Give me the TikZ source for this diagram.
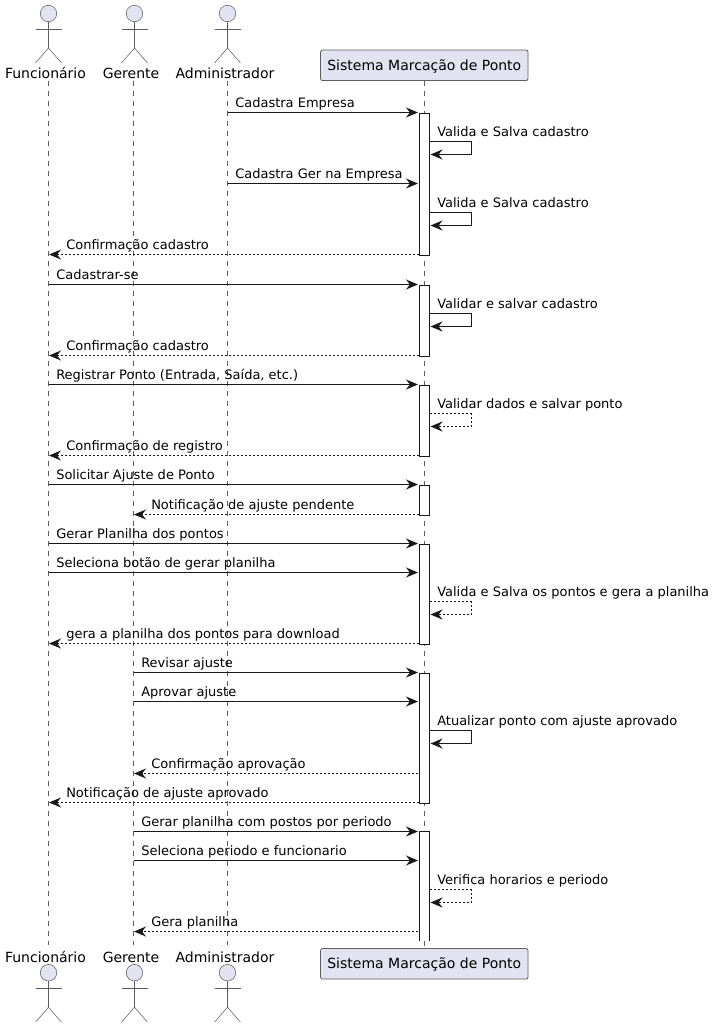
\documentclass[tikz,border=0pt]{standalone}
\usepackage{fontspec}
\setmainfont{DejaVu Sans}
\usetikzlibrary{arrows.meta}
\definecolor{pfill}{HTML}{E2E2F0}
\definecolor{pline}{HTML}{181818}
\tikzset{
  px/.style={x=0.75pt,y=-0.75pt},
  life/.style={draw=pline!70,line width=0.4pt,dash pattern=on 3.75pt off 3.75pt},
  act/.style={draw=pline!70,line width=0.4pt},
  head/.style={circle,draw=pline!70,fill=pfill,line width=0.4pt,minimum size=12.4pt,inner sep=0pt},
  actlabel/.style={font=\fontsize{10.5pt}{12pt}\selectfont,inner sep=0pt,anchor=base,text=black},
  pbox/.style={draw=pline!70,fill=pfill,rounded corners=1.5pt,line width=0.6pt,minimum width=155.6pt,minimum height=22.9pt,inner sep=0pt,text=black},
  pboxtext/.style={font=\fontsize{10.5pt}{12pt}\selectfont,inner sep=0pt,anchor=base,text=black},
  acti/.style={draw=pline,fill=white,line width=0.75pt,minimum width=7.5pt,inner sep=0pt,anchor=north},
  sync/.style={draw=pline,line width=0.75pt,-{Stealth[length=9pt,width=7.5pt,inset=3pt]}},
  ret/.style={sync,dash pattern=on 1.5pt off 1.5pt},
  lbl/.style={font=\fontsize{9.75pt}{11.5pt}\selectfont,inner sep=0pt,anchor=base west,text=black}
}
% name, x, y-centre of head
\newcommand{\actorfig}[3]{%
  \node[head] (#1h) at (#2,#3) {};
  \coordinate (#1w) at (#2,#3+34.5);
  \coordinate (#1al) at (#2-13,#3+15.5);
  \coordinate (#1ar) at (#2+13,#3+15.5);
  \coordinate (#1ll) at (#2-13,#3+49.5);
  \coordinate (#1lr) at (#2+13,#3+49.5);
  \draw[act] (#1h.south) -- (#1w);
  \draw[act] (#1al) -- (#1ar);
  \draw[act] (#1ll) -- (#1w) -- (#1lr);
}
% name, x1, x2, y, style, label x, label
\newcommand{\msgline}[7]{%
  \coordinate (#1a) at (#2,#4);
  \coordinate (#1b) at (#3,#4);
  \draw[#5] (#1a) -- (#1b);
  \node[lbl] (#1t) at (#6,#4-4.6) {#7};
}
% name, y1, style, label
\newcommand{\selfmsg}[4]{%
  \coordinate (#1a) at (430,#2);
  \coordinate (#1c) at (471,#2);
  \coordinate (#1d) at (471,#2+13);
  \coordinate (#1b) at (430.5,#2+13);
  \draw[#3] (#1a) -- (#1c) -- (#1d) -- (#1b);
  \node[lbl] (#1t) at (437,#2-4.6) {#4};
}
% name, y1, y2
\newcommand{\actbox}[3]{%
  \node[acti,minimum height={(#3-#2)*0.75pt}] (#1) at (424.5,#2) {};
}
\begin{document}
\begin{tikzpicture}[px]
\useasboundingbox (0,0) rectangle (715,1029);
% lifelines
\coordinate (lfT) at (48.5,81); \coordinate (lfB) at (48.5,945);
\coordinate (lgT) at (133.5,81); \coordinate (lgB) at (133.5,945);
\coordinate (laT) at (227.5,81); \coordinate (laB) at (227.5,945);
\coordinate (lsT) at (424.5,81); \coordinate (lsB) at (424.5,948);
\draw[life] (lfT) -- (lfB);
\draw[life] (lgT) -- (lgB);
\draw[life] (laT) -- (laB);
\draw[life] (lsT) -- (lsB);
% actors top
\actorfig{ft}{48.5}{13.5}
\actorfig{gt}{134.5}{13.5}
\actorfig{at}{227.5}{13.5}
\node[actlabel] (ftl) at (45.5,78) {Funcionário};
\node[actlabel] (gtl) at (131,78) {Gerente};
\node[actlabel] (atl) at (225,78) {Administrador};
\node[pbox] (st) at (424.3,65.3) {};
\node[pboxtext] (stt) at (424.3,70.4) {Sistema Marcação de Ponto};
% actors bottom
\actorfig{fb}{48.5}{972.7}
\actorfig{gb}{134.5}{972.7}
\actorfig{ab}{227.5}{972.7}
\node[actlabel] (fbl) at (45.5,962.2) {Funcionário};
\node[actlabel] (gbl) at (131,962.2) {Gerente};
\node[actlabel] (abl) at (225,962.2) {Administrador};
\node[pbox] (sb) at (424.3,963.8) {};
\node[pboxtext] (sbt) at (424.3,968.9) {Sistema Marcação de Ponto};
% activations
\actbox{b1}{112.5}{254.5}
\actbox{b2}{284.5}{355.5}
\actbox{b3}{384.5}{455.5}
\actbox{b4}{484.5}{514.5}
\actbox{b5}{543.5}{643.5}
\actbox{b6}{672.5}{802.5}
\coordinate (b7tl) at (419.5,831.5); \coordinate (b7tr) at (429.5,831.5);
\coordinate (b7bl) at (419.5,941); \coordinate (b7br) at (429.5,941);
\fill[white] (b7tl) rectangle (b7br);
\draw[pline,line width=0.75pt] (b7bl) -- (b7tl) -- (b7tr) -- (b7br);
% messages
\msgline{m1}{227.5}{418}{112.5}{sync}{235}{Cadastra Empresa}
\selfmsg{s1}{141.5}{sync}{Valida e Salva cadastro}
\msgline{m2}{227.5}{418}{183.5}{sync}{235}{Cadastra Ger na Empresa}
\selfmsg{s2}{212.5}{sync}{Valida e Salva cadastro}
\msgline{m3}{419}{49}{254.5}{ret}{66}{Confirmação cadastro}
\msgline{m4}{48.5}{418}{284.5}{sync}{56}{Cadastrar-se}
\selfmsg{s3}{313.5}{sync}{Validar e salvar cadastro}
\msgline{m5}{419}{49}{355.5}{ret}{66}{Confirmação cadastro}
\msgline{m6}{48.5}{418}{384.5}{sync}{56}{Registrar Ponto (Entrada, Saída, etc.)}
\selfmsg{s4}{413.5}{ret}{Validar dados e salvar ponto}
\msgline{m7}{419}{49}{455.5}{ret}{66}{Confirmação de registro}
\msgline{m8}{48.5}{418}{484.5}{sync}{56}{Solicitar Ajuste de Ponto}
\msgline{m9}{419}{134}{514.5}{ret}{151}{Notificação de ajuste pendente}
\msgline{m10}{48.5}{418}{543.5}{sync}{56}{Gerar Planilha dos pontos}
\msgline{m11}{48.5}{418}{572.5}{sync}{56}{Seleciona botão de gerar planilha}
\selfmsg{s5}{601.5}{ret}{Valida e Salva os pontos e gera a planilha}
\msgline{m12}{419}{49}{643.5}{ret}{66}{gera a planilha dos pontos para download}
\msgline{m13}{133.5}{418}{672.5}{sync}{141}{Revisar ajuste}
\msgline{m14}{133.5}{418}{701.5}{sync}{141}{Aprovar ajuste}
\selfmsg{s6}{730.5}{sync}{Atualizar ponto com ajuste aprovado}
\msgline{m15}{418}{134}{773.5}{ret}{151}{Confirmação aprovação}
\msgline{m16}{419}{49}{802.5}{ret}{66}{Notificação de ajuste aprovado}
\msgline{m17}{133.5}{418}{831.5}{sync}{141}{Gerar planilha com postos por periodo}
\msgline{m18}{133.5}{418}{860.5}{sync}{141}{Seleciona periodo e funcionario}
\selfmsg{s7}{889.5}{ret}{Verifica horarios e periodo}
\msgline{m19}{418}{134}{931.5}{ret}{151}{Gera planilha}
\end{tikzpicture}
\end{document}
